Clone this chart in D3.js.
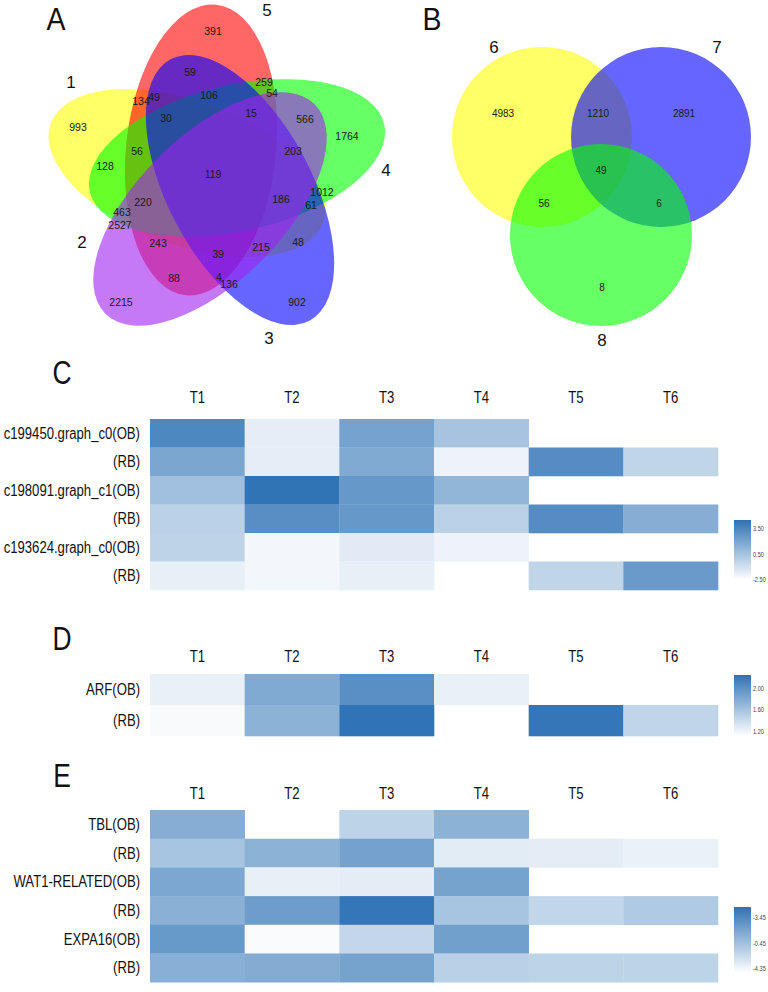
<!DOCTYPE html>
<html><head><meta charset="utf-8">
<script src="https://cdn.jsdelivr.net/npm/d3@7"></script>
<style>
body{margin:0;background:#fff}
svg{display:block}
</style>
</head><body>
<script>
// ================= DATA =================
// Venn A (five sets) – region counts
const vennASets = ["1", "2", "3", "4", "5"];
const vennACounts = [993, 134, 49, 59, 30, 56, 128, 391, 259, 54, 106, 15, 566, 1764, 203, 119,
                     220, 463, 2527, 243, 88, 2215, 1012, 186, 61, 48, 215, 39, 4, 136, 902];
// Venn B (three sets) – region counts
const vennBSets = ["6", "7", "8"];
const vennBCounts = [4983, 1210, 2891, 49, 56, 6, 8];

// Heatmaps
const heatCols = ["T1", "T2", "T3", "T4", "T5", "T6"];

const heatCRows = ["c199450.graph_c0(OB)", "(RB)", "c198091.graph_c1(OB)", "(RB)", "c193624.graph_c0(OB)", "(RB)"];
const heatCValues = [
  [3.4, -1.7, 2.1, 0.4, null, null],
  [1.9, -1.7, 1.7, -2.0, 3.2, -0.5],
  [0.6, 4.4, 2.6, 1.1, null, null],
  [-0.3, 3.1, 2.6, -0.3, 3.2, 1.5],
  [-0.4, -2.2, -1.6, -2.0, null, null],
  [-1.8, -2.2, -1.8, null, -0.5, 2.5]
];
const heatCTicks = [3.5, 0.5, -2.5];
const heatCTickLabels = ["3.50", "0.50", "-2.50"];

const heatDRows = ["ARF(OB)", "(RB)"];
const heatDValues = [
  [1.23, 1.79, 2.01, 1.23, null, null],
  [1.15, 1.73, 2.23, null, 2.21, 1.45]
];
const heatDTicks = [2.0, 1.6, 1.2];
const heatDTickLabels = ["2.00", "1.60", "1.20"];

const heatERows = ["TBL(OB)", "(RB)", "WAT1-RELATED(OB)", "(RB)", "EXPA16(OB)", "(RB)"];
const heatEValues = [
  [0.8, null, -1.9, 0.5, null, null],
  [-0.8, 0.5, 1.7, -3.7, -3.8, -4.1],
  [1.3, -4.0, -3.8, 1.6, null, null],
  [0.6, 2.0, 4.8, -0.8, -2.1, -1.3],
  [2.3, -4.8, -2.2, 1.8, null, null],
  [0.7, 0.9, 1.6, -1.7, -1.9, -1.9]
];
const heatETicks = [3.45, -0.45, -4.35];
const heatETickLabels = ["-3.45", "-0.45", "-4.35"];

// ================= LAYOUT =================
const W = 768, H = 992;
const svg = d3.select("body").append("svg").attr("width", W).attr("height", H);

const sans = "'Liberation Sans',Arial,sans-serif";

// condensed text helper: horizontal squeeze via transform
function ctext(g, str, x, y, opts) {
  const o = Object.assign({size: 16, sx: 0.82, anchor: "start", fill: "#111", fam: sans}, opts || {});
  g.append("g").attr("transform", `translate(${x},${y}) scale(${o.sx},1)`)
    .append("text").attr("x", 0).attr("y", 0)
    .attr("text-anchor", o.anchor).attr("dominant-baseline", "central")
    .attr("font-family", o.fam).attr("font-size", o.size).attr("fill", o.fill).text(str);
}

// ---------- Venn A ----------
const vennAShapes = {
  "1": {cx: 187, cy: 173, a: 145, b: 72, rot: 20,  color: "#ffff00"},
  "5": {cx: 201, cy: 150, a: 146, b: 75, rot: -84, color: "#ff0000"},
  "4": {cx: 237, cy: 158, a: 151, b: 73, rot: -13, color: "#00ff00"},
  "3": {cx: 240, cy: 190, a: 148, b: 72, rot: 62,  color: "#0000ff"},
  "2": {cx: 210, cy: 209, a: 148, b: 73, rot: -45, color: "#a020f0"}
};
const vennADrawOrder = ["1", "5", "4", "3", "2"];
const vennALabelPos = {"1": [71, 82], "2": [82, 242], "3": [269, 338], "4": [386, 170], "5": [267, 10]};
const vennACountPos = [[78,127],[141,101],[154,97],[190,72],[166,118],[137,151],[105,166],[213,31],[264,82],[272,93],
  [209,95],[251,113],[305,119],[347,136],[293,151],[213,174],[143,202],[122,212],[120,225],[158,243],[174,278],[121,302],
  [322,192],[281,199],[311,205],[298,242],[261,247],[218,254],[219,277],[229,284],[297,302]];

const gA = svg.append("g");
gA.selectAll("ellipse").data(vennADrawOrder).join("ellipse")
  .attr("cx", d => vennAShapes[d].cx).attr("cy", d => vennAShapes[d].cy)
  .attr("rx", d => vennAShapes[d].a).attr("ry", d => vennAShapes[d].b)
  .attr("transform", d => `rotate(${vennAShapes[d].rot},${vennAShapes[d].cx},${vennAShapes[d].cy})`)
  .attr("fill", d => vennAShapes[d].color).attr("fill-opacity", 0.6);
gA.selectAll("text.cnt").data(vennACounts).join("text").attr("class", "cnt")
  .attr("x", (d, i) => vennACountPos[i][0]).attr("y", (d, i) => vennACountPos[i][1])
  .attr("text-anchor", "middle").attr("dominant-baseline", "central")
  .attr("font-family", sans).attr("font-size", 10.5).attr("fill", "#1a1a1a").text(d => d);
gA.selectAll("text.set").data(vennASets).join("text").attr("class", "set")
  .attr("x", d => vennALabelPos[d][0]).attr("y", d => vennALabelPos[d][1])
  .attr("text-anchor", "middle").attr("dominant-baseline", "central")
  .attr("font-family", sans).attr("font-size", 17).attr("fill", "#111").text(d => d);
ctext(svg, "A", 56, 19, {size: 31, sx: 0.92, anchor: "middle"});

// ---------- Venn B ----------
const vennBShapes = {
  "6": {cx: 542, cy: 137, r: 90, color: "#ffff00"},
  "7": {cx: 661, cy: 137, r: 90, color: "#0000ff"},
  "8": {cx: 601, cy: 235, r: 91, color: "#00ff00"}
};
const vennBLabelPos = {"6": [494, 47], "7": [717, 47], "8": [602, 340]};
const vennBCountPos = [[503,113],[598,113],[684,113],[601,170],[544,203],[659,203],[602,287]];
const gB = svg.append("g");
gB.selectAll("circle").data(vennBSets).join("circle")
  .attr("cx", d => vennBShapes[d].cx).attr("cy", d => vennBShapes[d].cy).attr("r", d => vennBShapes[d].r)
  .attr("fill", d => vennBShapes[d].color).attr("fill-opacity", 0.6);
gB.selectAll("text.cnt").data(vennBCounts).join("text").attr("class", "cnt")
  .attr("x", (d, i) => vennBCountPos[i][0]).attr("y", (d, i) => vennBCountPos[i][1])
  .attr("text-anchor", "middle").attr("dominant-baseline", "central")
  .attr("font-family", sans).attr("font-size", 10).attr("fill", "#1a1a1a").text(d => d);
gB.selectAll("text.set").data(vennBSets).join("text").attr("class", "set")
  .attr("x", d => vennBLabelPos[d][0]).attr("y", d => vennBLabelPos[d][1])
  .attr("text-anchor", "middle").attr("dominant-baseline", "central")
  .attr("font-family", sans).attr("font-size", 17).attr("fill", "#111").text(d => d);
ctext(svg, "B", 432, 19, {size: 31, sx: 0.92, anchor: "middle"});

// ---------- Heatmaps ----------
const x = d3.scaleBand().domain(heatCols).range([150, 718]).padding(0);
const lowC = "#ffffff", highC = "#2e72b5";
let gradId = 0;

function heatmap(opt) {
  const g = svg.append("g");
  const y = d3.scaleBand().domain(d3.range(opt.rows.length)).range([opt.top, opt.top + opt.rowH * opt.rows.length]);
  const color = d3.scaleLinear().domain(opt.domain).range([lowC, highC]).interpolate(d3.interpolateRgb).clamp(true);
  const cells = [];
  opt.values.forEach((row, i) => row.forEach((v, j) => { if (v !== null) cells.push({i, j, v}); }));
  g.selectAll("rect.cell").data(cells).join("rect").attr("class", "cell")
    .attr("x", d => x(heatCols[d.j])).attr("y", d => y(d.i))
    .attr("width", x.bandwidth() + 0.3).attr("height", y.bandwidth() + 0.3)
    .attr("fill", d => color(d.v));
  // column headers
  heatCols.forEach(c => ctext(g, c, x(c) + x.bandwidth() / 2, opt.headerY, {size: 16, sx: 0.82, anchor: "middle"}));
  // row labels
  opt.rows.forEach((r, i) => ctext(g, r, 140, y(i) + y.bandwidth() / 2, {size: 16, sx: 0.82, anchor: "end"}));
  // legend
  const ly = d3.scaleLinear().domain(opt.domain).range([opt.legBottom, opt.legTop]);
  const id = "grad" + (gradId++);
  const grad = svg.append("defs").append("linearGradient").attr("id", id)
    .attr("x1", 0).attr("y1", 1).attr("x2", 0).attr("y2", 0);
  d3.range(0, 1.0001, 0.1).forEach(t => {
    grad.append("stop").attr("offset", t).attr("stop-color", color(opt.domain[0] + t * (opt.domain[1] - opt.domain[0])));
  });
  g.append("rect").attr("x", 734).attr("y", opt.legTop).attr("width", 17)
    .attr("height", opt.legBottom - opt.legTop).attr("fill", `url(#${id})`);
  opt.ticks.forEach((t, i) => ctext(g, opt.tickLabels[i], 753, ly(t), {size: 7, sx: 0.8, fill: "#444"}));
  ctext(svg, opt.letter, 62, opt.letterY, {size: 33, sx: 0.8, anchor: "middle"});
}

heatmap({letter: "C", letterY: 372, headerY: 398, rows: heatCRows, values: heatCValues, top: 419, rowH: 28.5,
  domain: [-2.6, 4.5], ticks: heatCTicks, tickLabels: heatCTickLabels, legTop: 520, legBottom: 580});
heatmap({letter: "D", letterY: 638, headerY: 657, rows: heatDRows, values: heatDValues, top: 674, rowH: 31,
  domain: [1.11, 2.24], ticks: heatDTicks, tickLabels: heatDTickLabels, legTop: 675, legBottom: 736});
heatmap({letter: "E", letterY: 775, headerY: 794, rows: heatERows, values: heatEValues, top: 810, rowH: 28.7,
  domain: [-5.1, 5.1], ticks: heatETicks, tickLabels: heatETickLabels, legTop: 907, legBottom: 973});
</script>
</body></html>
